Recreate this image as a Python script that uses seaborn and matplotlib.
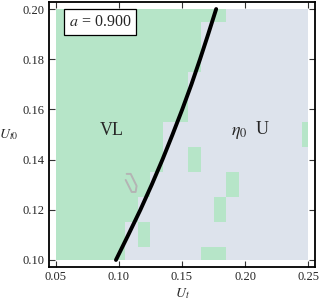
import numpy as np
import matplotlib
matplotlib.use("Agg")
import matplotlib.pyplot as plt
from matplotlib.colors import ListedColormap
import seaborn as sns

# grid of (U_t, U_t0) points
ut = np.round(np.arange(0.05, 0.2501, 0.01), 2)
ut0 = np.round(np.arange(0.10, 0.2001, 0.01), 2)

# phase per row (bottom U_t0=0.10 to top 0.20): V = VL, U = uniform
phase_rows = [
    "VVVVVVUUUUUUVVUUUUUUU",
    "VVVVVVUVUUUUUUUUUUUUU",
    "VVVVVVVUUUUUUVUUUUUUU",
    "VVVVVVVVUUUUUUVUUUUUU",
    "VVVVVVVVVUUVUUUUUUUUU",
    "VVVVVVVVVUUUUUUUUUUUV",
    "VVVVVVVVVVVUUUUUUUUUU",
    "VVVVVVVVVVVUUUUUUUUUU",
    "VVVVVVVVVVVVUUUUUUUUU",
    "VVVVVVVVVVVVUUUUUUUUU",
    "VVVVVVVVVVVVVVUUUUUUU",
]

# boundary curve
curve_x = [0.0976, 0.1074, 0.1170, 0.1260, 0.1345, 0.1425, 0.1502, 0.1575, 0.1643, 0.1708, 0.1771]
curve_y = [0.100, 0.110, 0.120, 0.130, 0.140, 0.150, 0.160, 0.170, 0.180, 0.190, 0.200]

# small grey contour loop
loop_x = [0.1061, 0.1093, 0.1140, 0.1132, 0.1101, 0.1053, 0.1061]
loop_y = [0.1343, 0.1343, 0.1295, 0.1271, 0.1271, 0.1319, 0.1343]

sns.set_theme(style="ticks")
plt.rcParams["font.family"] = ["Liberation Serif", "DejaVu Serif"]
plt.rcParams["mathtext.fontset"] = "stix"

fig = plt.figure(figsize=(3.19, 3.05), dpi=100)
ax = fig.add_axes([49 / 319, 1 - 267 / 305, 266 / 319, 265 / 305])

grid = np.array([[1 if c == "V" else 0 for c in row] for row in phase_rows])


def edges(c):
    mid = (c[:-1] + c[1:]) / 2
    return np.concatenate([[c[0]], mid, [c[-1]]])


cmap = ListedColormap(["#dde3ec", "#b6e5c8"])
ax.pcolormesh(edges(ut), edges(ut0), grid, cmap=cmap, vmin=0, vmax=1,
              shading="flat", linewidth=0, antialiased=False)

sns.lineplot(x=loop_x, y=loop_y, sort=False, color="#b4b4b4", lw=1.4, ax=ax)
sns.lineplot(x=curve_x, y=curve_y, sort=False, color="black", lw=2.8, ax=ax)

ax.set_xlim(0.0445, 0.2555)
ax.set_ylim(0.0972, 0.2028)
ax.set_xticks([0.05, 0.10, 0.15, 0.20, 0.25])
ax.set_xticklabels(["0.05", "0.10", "0.15", "0.20", "0.25"])
ax.set_yticks([0.10, 0.12, 0.14, 0.16, 0.18, 0.20])
ax.set_yticklabels(["0.10", "0.12", "0.14", "0.16", "0.18", "0.20"])
ax.tick_params(direction="in", length=4, width=0.8, labelsize=9,
               top=True, right=True, color="#333333", pad=3)
for s in ax.spines.values():
    s.set_linewidth(1.3)
    s.set_color("black")

ax.set_xlabel("$U_t$", fontsize=10)
ax.xaxis.set_label_coords(0.5, -0.072)
ax.set_ylabel("$U_{t0}$", fontsize=10, rotation=0, va="center")
ax.yaxis.set_label_coords(-0.150, 0.5)

ax.text(0.0848, 0.1948, "$a$ = 0.900", fontsize=11.5, ha="center", va="center",
        bbox=dict(boxstyle="square,pad=0.3", fc="white", ec="black", lw=0.9))
ax.text(0.0943, 0.1514, "VL", fontsize=13, ha="center", va="center")
ax.text(0.1955, 0.1506, r"$\eta_0$", fontsize=13, ha="center", va="center")
ax.text(0.2136, 0.1518, "U", fontsize=13, ha="center", va="center")

fig.savefig("out.png", dpi=100)
